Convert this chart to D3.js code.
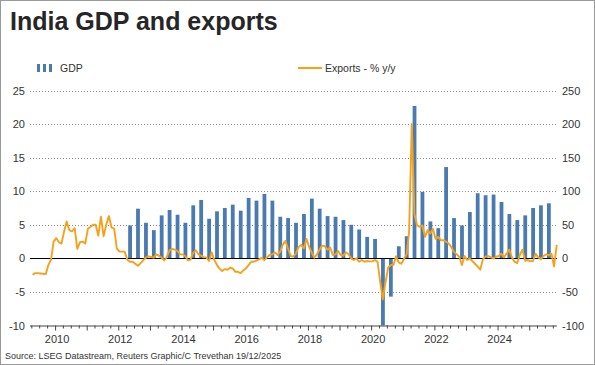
<!DOCTYPE html>
<html>
<head>
<meta charset="utf-8">
<script src="https://cdn.jsdelivr.net/npm/d3@7"></script>
<style>
  body { margin: 0; background: #fff; }
  text { font-family: "Liberation Sans", Arial, sans-serif; }
</style>
</head>
<body>
<div id="chart"></div>
<script>
// GDP % y/y, quarterly from Q2 2012 to Q3 2025
const gdpStart = new Date(2012, 3, 1);
const gdpValues = [
  4.9, 7.4, 5.3, 4.2, 6.4, 7.2, 6.5, 5.3, 7.9, 8.7,
  5.9, 7.0, 7.5, 8.0, 7.1, 9.0, 8.6, 9.6, 8.6, 6.2,
  6.0, 5.3, 6.6, 8.9, 7.4, 6.3, 6.2, 5.7, 5.0, 4.3,
  3.2, 2.9, -23.9, -5.7, 1.8, 3.3, 22.7, 9.9, 5.5, 4.5,
  13.6, 6.0, 4.9, 6.9, 9.7, 9.4, 9.5, 8.4, 6.6, 5.7,
  6.4, 7.5, 7.9, 8.2
];

// Exports % y/y, monthly from Apr 2009 to Nov 2025
const exportsStart = new Date(2009, 3, 1);
const exportsValues = [
  -24.5, -22, -22, -22.5, -23, -23.5, -10, -2, 25, 30,
  24, 22, 40, 55, 42, 40, 45, 14, 24, 25,
  22, 44, 47, 50, 50, 34, 62, 33, 50, 63,
  46, 44, 15, 10, 10, 10, -2, -5, -5, -8,
  -11, -7, -3, 1, 3, 2, 1, 6, 4, 1,
  -3, 2, 12, 14, 13, 11, 6, 6, 3, -3,
  -2, 8, 12, 6, 4, 1.5, 1.5, -4, 9, -2.5,
  -10, -15, -19, -16, -17, -14, -15, -20, -20, -22,
  -18, -15, -10, -5, -5, -3.5, -1.5, 1, -2.5, 1.5,
  5, 6, 9, 5, 10, 20, 26, 15, 3.5, 2.5,
  7, 17, 20, 15, 29, 17, 8, 1, 6, 13,
  19, 18, 13, 16, 5, 6, 11, 5, 4, 9,
  6, 0, -2.5, 0, -5, -2.5, -5, -4, -4.5, -4.5,
  -2.5, -5, -35, -61, -36, -14, -10, -10, 3, -6,
  -8, -1, 6, 40, 200, 66, 49, 47, 49, 32,
  42, 37, 44, 29, 32, 27, 27, 25, 22, 17,
  10, 6, 2.5, -10, 3.5, -2.5, 0, -4, -8, -12,
  -17, -1.5, 2.5, 3.5, 1.5, 0, 2.5, 3.5, 7, 1.5,
  7, 13, 1.5, -5, -7, 5, 13, -3.5, -2.5, -4.5,
  -3.5, 7, 1.5, -1.5, 3.5, 6, 4.5, 7, -12, 20
];

const leftTicks = [25, 20, 15, 10, 5, 0, -5, -10];
const rightTicks = [250, 200, 150, 100, 50, 0, -50, -100];
const yearLabels = [2010, 2012, 2014, 2016, 2018, 2020, 2022, 2024];

const W = 595, H = 365;
const plot = { left: 30, right: 557, top: 90.5, bottom: 325.5 };
const blue = "#4a7bb0", orange = "#f7a11a";

const svg = d3.select("#chart").append("svg")
  .attr("width", W).attr("height", H);

svg.append("rect")
  .attr("x", 0.5).attr("y", 0.5)
  .attr("width", W - 1).attr("height", H - 1)
  .attr("fill", "#fff").attr("stroke", "#9a9a9a");

const x = d3.scaleTime()
  .domain([new Date(2009, 2, 17), new Date(2025, 10, 18)])
  .range([plot.left, plot.right]);
const yL = d3.scaleLinear().domain([-10, 25]).range([plot.bottom, plot.top]);
const yR = d3.scaleLinear().domain([-100, 250]).range([plot.bottom, plot.top]);

// title
svg.append("text")
  .attr("x", 10).attr("y", 30)
  .attr("font-size", 25).attr("font-weight", "bold")
  .attr("fill", "#262626")
  .text("India GDP and exports");

// legend
const lg = svg.append("g");
[37, 43, 49].forEach(lx => {
  lg.append("rect").attr("x", lx).attr("y", 64).attr("width", 3).attr("height", 8).attr("fill", blue);
});
lg.append("text").attr("x", 60).attr("y", 72).attr("font-size", 10.5).attr("fill", "#333").text("GDP");
lg.append("line").attr("x1", 298).attr("x2", 322).attr("y1", 68).attr("y2", 68)
  .attr("stroke", orange).attr("stroke-width", 2);
lg.append("text").attr("x", 325).attr("y", 72).attr("font-size", 10.5).attr("fill", "#333").text("Exports - % y/y");

// gridlines
svg.append("g").selectAll("line")
  .data(leftTicks.filter(d => d !== 0 && d !== -10))
  .enter().append("line")
  .attr("x1", plot.left).attr("x2", plot.right)
  .attr("y1", d => Math.round(yL(d)) + 0.5).attr("y2", d => Math.round(yL(d)) + 0.5)
  .attr("stroke", "#8c8c8c").attr("stroke-dasharray", "1,2");

// axis labels left/right
svg.append("g").selectAll("text")
  .data(leftTicks).enter().append("text")
  .attr("x", 25).attr("y", d => yL(d) + 4)
  .attr("text-anchor", "end").attr("font-size", 11).attr("fill", "#333")
  .text(d => d);
svg.append("g").selectAll("text")
  .data(rightTicks).enter().append("text")
  .attr("x", 562).attr("y", d => yR(d) + 4)
  .attr("text-anchor", "start").attr("font-size", 11).attr("fill", "#333")
  .text(d => d);

svg.append("clipPath").attr("id", "clip")
  .append("rect")
  .attr("x", plot.left).attr("y", plot.top - 5)
  .attr("width", plot.right - plot.left).attr("height", plot.bottom - plot.top + 5);

// GDP bars
const quarters = gdpValues.map((v, i) => {
  const s = d3.timeMonth.offset(gdpStart, i * 3);
  const e = d3.timeMonth.offset(s, 3);
  return { date: new Date((s.getTime() + e.getTime()) / 2), value: v };
});
svg.append("g").attr("clip-path", "url(#clip)")
  .selectAll("rect").data(quarters).enter().append("rect")
  .attr("x", d => x(d.date) - 1.9)
  .attr("width", 3.8)
  .attr("y", d => yL(Math.max(0, d.value)))
  .attr("height", d => Math.abs(yL(d.value) - yL(0)))
  .attr("fill", blue);

// zero line
svg.append("line")
  .attr("x1", plot.left).attr("x2", plot.right)
  .attr("y1", Math.round(yL(0)) + 0.5).attr("y2", Math.round(yL(0)) + 0.5)
  .attr("stroke", "#000").attr("stroke-width", 1);

// exports line
const months = exportsValues.map((v, i) => {
  const s = d3.timeMonth.offset(exportsStart, i);
  return { date: d3.timeDay.offset(s, 14), value: v };
});
svg.append("path")
  .datum(months)
  .attr("fill", "none")
  .attr("stroke", orange).attr("stroke-width", 1.9)
  .attr("stroke-linejoin", "round")
  .attr("d", d3.line().x(d => x(d.date)).y(d => yR(d.value)));

// x axis
const xAxis = d3.axisBottom(x)
  .ticks(d3.timeMonth.every(3))
  .tickSize(3)
  .tickFormat("");
const gx = svg.append("g")
  .attr("transform", `translate(0,${Math.round(plot.bottom) - 0.5})`)
  .call(xAxis);
gx.select(".domain").attr("stroke", "#444").attr("d", `M${plot.left},0.5H${plot.right}`);
gx.selectAll(".tick line").attr("stroke", "#444")
  .attr("y2", d => d.getMonth() === 0 ? 5 : 3);

svg.append("g").selectAll("text")
  .data(yearLabels).enter().append("text")
  .attr("x", d => x(new Date(d, 0, 1)) + 2)
  .attr("y", plot.bottom + 17)
  .attr("text-anchor", "middle").attr("font-size", 11).attr("fill", "#333")
  .text(d => d);

// source
svg.append("text")
  .attr("x", 5).attr("y", 359)
  .attr("font-size", 9).attr("fill", "#333")
  .text("Source: LSEG Datastream, Reuters Graphic/C Trevethan 19/12/2025");
</script>
</body>
</html>
